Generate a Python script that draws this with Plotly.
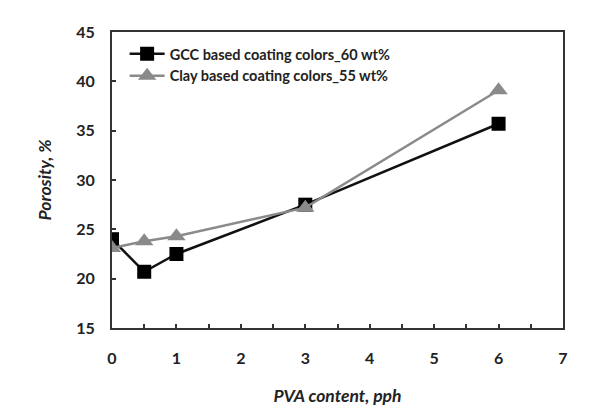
import plotly.graph_objects as go

x_gcc = [0, 0.5, 1, 3, 6]
y_gcc = [24.0, 20.7, 22.5, 27.5, 35.7]
x_clay = [0, 0.5, 1, 3, 6]
y_clay = [23.1, 23.8, 24.3, 27.2, 39.1]
name_gcc = "GCC based coating colors_60 wt%"
name_clay = "Clay based coating colors_55 wt%"

FONT = "Lato, 'Open Sans', sans-serif"

fig = go.Figure()
fig.add_trace(go.Scatter(x=x_gcc, y=y_gcc, name=name_gcc, mode="lines+markers",
                         line=dict(color="#111111", width=2.5),
                         marker=dict(symbol="square", size=14, color="#000000")))
fig.add_trace(go.Scatter(x=x_clay, y=y_clay, name=name_clay, mode="lines+markers",
                         line=dict(color="#8a8a8a", width=2.5),
                         marker=dict(symbol="triangle-up", size=16, color="#8a8a8a")))

axis_common = dict(showline=True, linecolor="#333333", linewidth=2, mirror=True,
                   showgrid=False, zeroline=False, ticks="inside", ticklen=4,
                   tickwidth=1.5, tickcolor="#333333",
                   tickfont=dict(family=FONT, size=16, color="#222222", weight="bold"))

fig.update_xaxes(range=[0, 7], dtick=1, tick0=0, ticklabelstandoff=15,
                 minor=dict(dtick=0.5, ticks="inside", ticklen=4, tickwidth=1.5, tickcolor="#333333"),
                 title=dict(text="<b><i>PVA content, pph</i></b>", standoff=24,
                            font=dict(family=FONT, size=17.5, color="#222222")),
                 **axis_common)
fig.update_yaxes(range=[15, 45], dtick=5, tick0=15, ticklabelstandoff=12,
                 title=dict(text="<b><i>Porosity, %</i></b>", standoff=20,
                            font=dict(family=FONT, size=17.5, color="#222222")),
                 **axis_common)

fig.update_layout(width=607, height=416, plot_bgcolor="white", paper_bgcolor="white",
                  margin=dict(l=104, r=52, t=24, b=96),
                  showlegend=True,
                  legend=dict(x=0.028, y=0.98, xanchor="left", yanchor="top",
                              bgcolor="rgba(0,0,0,0)", tracegroupgap=0,
                              font=dict(family=FONT, size=14.5, color="#222222", weight="bold"),
                              itemwidth=35))

fig.write_html("out.html")
